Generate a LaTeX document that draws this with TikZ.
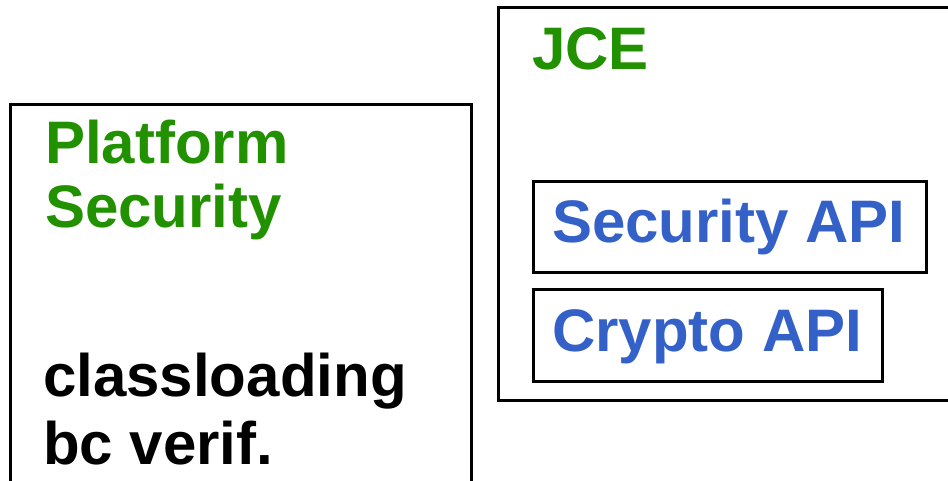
\documentclass[tikz,border=0pt]{standalone}
\usepackage{fontspec}
\setmainfont{Liberation Sans}
\definecolor{hdgreen}{RGB}{34,145,0}
\definecolor{apiblue}{RGB}{52,97,200}
\begin{document}
\begin{tikzpicture}[x=1pt,y=-1pt,
  box/.style={draw=black,line width=3pt,rectangle,inner sep=0pt,outer sep=0pt,anchor=north west},
  lbl/.style={inner sep=0pt,anchor=base west,font=\fontsize{60}{66}\selectfont\bfseries}]
\useasboundingbox (0,0) rectangle (948,481);
\clip (0,0) rectangle (948,481);
% outer boxes
\node[box,minimum width=461pt,minimum height=400pt] (plat) at (10.5,104.5) {};
\node[box,minimum width=470pt,minimum height=392.5pt] (jce) at (498.5,7.5) {};
% inner boxes
\node[box,minimum width=393pt,minimum height=91pt] (secbox) at (533.5,181.5) {};
\node[box,minimum width=348.5pt,minimum height=92pt] (cryptobox) at (533.5,289) {};
% texts
\node[lbl,text=hdgreen] (t1) at (45,164) {Platform};
\node[lbl,text=hdgreen] (t2) at (45,228) {Security};
\node[lbl,text=black] (t3) at (43,396) {classloading};
\node[lbl,text=black] (t4) at (43,464) {bc verif.};
\node[lbl,text=hdgreen] (t5) at (532,70) {JCE};
\node[lbl,text=apiblue] (t6) at (552,243) {Security API};
\node[lbl,text=apiblue] (t7) at (552,351) {Crypto API};
\end{tikzpicture}
\end{document}
